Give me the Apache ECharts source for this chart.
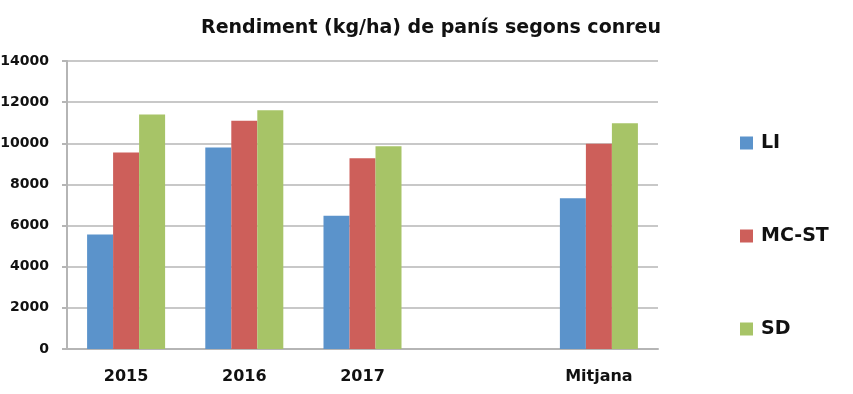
<!DOCTYPE html>
<html><head><meta charset="utf-8">
<script src="https://cdn.jsdelivr.net/npm/echarts@6/dist/echarts.min.js"></script>
<style>html,body{margin:0;padding:0;background:#fff}#c{width:853px;height:394px}</style>
</head><body><div id="c"></div>
<script>
const categories = ['2015', '2016', '2017', '', 'Mitjana'];
const seriesNames = ['LI', 'MC-ST', 'SD'];
const liValues = [5560, 9800, 6480, null, 7330];
const mcstValues = [9550, 11100, 9270, null, 9980];
const sdValues = [11400, 11600, 9850, null, 10970];
const yTicks = { min: 0, max: 14000, interval: 2000 };
const titleText = 'Rendiment (kg/ha) de panís segons conreu';

const colors = ['#5B93CB', '#CD5F5A', '#A7C467'];
const font = '"DejaVu Sans", sans-serif';
const chart = echarts.init(document.getElementById('c'), null, {renderer: 'canvas'});
const values = [liValues, mcstValues, sdValues];
chart.setOption({
  animation: false,
  title: { text: titleText, left: 431, top: 19, textAlign: 'center', padding: 0,
    textStyle: { fontFamily: font, fontWeight: 'bold', fontSize: 19, color: '#111' } },
  legend: { orient: 'vertical', left: 740, top: 133, itemGap: 73, itemWidth: 13, itemHeight: 13,
    padding: 0, icon: 'rect', data: seriesNames,
    textStyle: { fontFamily: font, fontWeight: 'bold', fontSize: 19, lineHeight: 20, color: '#111', padding: [0,0,0,3] } },
  grid: { left: 67, right: 195, top: 61, bottom: 45, containLabel: false, outerBoundsMode: 'none' },
  xAxis: { type: 'category', data: categories,
    axisLine: { show: true, lineStyle: { color: '#b5b5b5', width: 2 } },
    axisTick: { show: false },
    axisLabel: { fontFamily: font, fontWeight: 'bold', fontSize: 16, color: '#111', margin: 20 } },
  yAxis: { type: 'value', min: yTicks.min, max: yTicks.max, interval: yTicks.interval,
    axisLine: { show: true, lineStyle: { color: '#b5b5b5', width: 2 } },
    axisTick: { show: true, length: 5, lineStyle: { color: '#b5b5b5', width: 2 } },
    splitLine: { show: true, lineStyle: { color: '#c8c8c8', width: 2 } },
    axisLabel: { fontFamily: font, fontWeight: 'bold', fontSize: 14, color: '#111', margin: 18,
      formatter: v => String(v) } },
  series: seriesNames.map((n, i) => ({
    name: n, type: 'bar', data: values[i], barGap: '0%', barCategoryGap: '34%',
    itemStyle: { color: colors[i] }
  }))
});
</script></body></html>
